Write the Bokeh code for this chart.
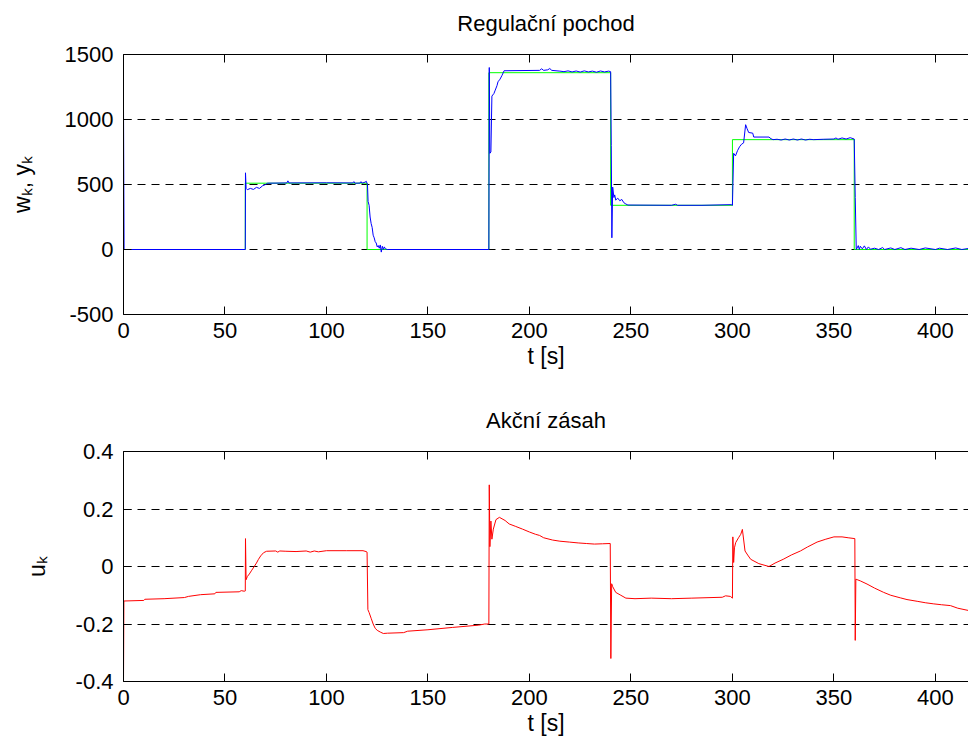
from bokeh.plotting import figure
from bokeh.layouts import column
from bokeh.models import Range1d, LinearAxis, FixedTicker, CustomLabelingPolicy
from bokeh.embed import file_html
from bokeh.resources import INLINE

FONT = "Liberation Sans"

# ---------------- data ----------------
x_ticks = [0, 50, 100, 150, 200, 250, 300, 350, 400]

# setpoint w_k (green), step after each time
t_w = [0, 60, 120, 180, 240, 300, 360, 416.3]
w_k = [0, 510, 0, 1360, 340, 845, 0, 0]

# output y_k (blue)
t_y = [0, 0.3, 60, 60.1, 60.4, 61, 62.5, 64, 65.5, 67, 68.5, 70, 71, 80.5, 81, 81.5,
       100, 113, 113.5, 114, 116.5, 117, 117.5, 119, 119.6, 120.2, 120.5, 121, 121.5,
       122, 122.5, 123, 123.5, 124, 124.5, 125, 125.5, 126, 126.5, 127, 127.5, 128,
       128.5, 129, 130, 180, 180.2, 180.5, 181, 181.5, 182.5, 183, 184, 184.5, 185.5,
       186.5, 187.5, 205, 206, 207, 209, 210, 211, 215, 217, 219, 221, 223, 225, 227,
       229, 231, 233, 235, 237, 239, 240, 240.3, 240.6, 241, 241.6, 242, 242.5, 243.5,
       244.5, 245.5, 246.5, 247.5, 248.5, 270, 272, 273, 285, 299.5, 300, 300.6, 301.5,
       302.5, 303.5, 304.5, 305.5, 306.5, 307.2, 308, 310, 310.5, 318, 319, 320, 322,
       324, 326, 328, 330, 332, 334, 336, 338, 340, 345, 350, 351, 352, 354, 356, 358,
       360, 360.5, 361, 362, 362.5, 363, 364, 365, 366, 367, 368, 370, 372, 374, 375,
       378, 380, 383, 385, 388, 392, 395, 400, 402, 406, 410, 413, 416.3]
y_k = [1090, 0, 0, 590, 470, 460, 470, 462, 478, 470, 490, 500, 510, 512, 528, 512,
       513, 512, 522, 510, 511, 522, 510, 518, 525, 500, 370, 340, 250,
       200, 170, 110, 90, 60, 50, 20, 30, 10, 35, -20, 25, 0,
       20, 5, 0, 0, 1400, 740, 750, 1180, 1200, 1220, 1260, 1290, 1310,
       1340, 1375, 1378, 1390, 1378, 1382, 1392, 1378, 1372, 1368, 1374, 1366, 1373, 1365, 1374,
       1366, 1372, 1364, 1373, 1366, 1372, 1368, 800, 90, 480, 400, 420, 380, 395,
       375, 385, 360, 350, 342, 340, 348, 340, 340, 345, 340, 740, 720,
       760, 790, 810, 820, 960, 930, 900, 895, 865, 865, 852, 845, 848,
       842, 850, 842, 850, 842, 850, 842, 848, 845, 848, 850, 858, 848, 858, 850, 860,
       850, 400, 0, 30, 0, 25, 5, 28, 0, 20, 2, 10, 0, 15, 0,
       12, 0, 14, 0, 10, 0, 12, 0, 10, 0, 12, 0, 8]

# control action u_k (red)
t_u = [0, 0.2, 10, 10.5, 20, 30, 32, 38, 45, 45.5, 57, 58, 59.5, 60, 60.1, 60.4, 61, 62,
       63, 64.4, 65.5, 66.5, 67.6, 69, 70.5, 75, 76, 77, 80, 85, 90, 92, 94, 96, 100,
       110, 118, 119.5, 120, 120.4, 121, 122, 123, 124, 125, 126.5, 128, 130, 138, 140,
       150, 162, 175, 178, 180, 180.2, 180.5, 181, 181.5, 182.2, 183.5, 185.2, 188, 190,
       193, 196.6, 200, 203, 205, 207, 211.4, 215, 219.6, 224, 228, 232, 236, 239.8,
       240.1, 240.5, 241, 242.5, 245, 247.5, 252, 260, 270, 280, 295, 296.6, 299, 300,
       300.2, 300.6, 301, 301.6, 303, 304.1, 304.9, 306.2, 307.5, 309, 313, 318, 321,
       325, 329, 333.5, 337, 341.7, 346, 350, 354, 357, 360.3, 360.5, 360.8, 363, 366.3,
       370, 374.5, 378, 382.7, 386, 391, 395, 399.2, 403, 407.4, 411, 416.3]
u_k = [-0.40, -0.12, -0.118, -0.114, -0.112, -0.108, -0.104, -0.098, -0.095, -0.09,
       -0.088, -0.084, -0.086, -0.085, 0.097, -0.046, -0.035, -0.026, -0.015, 0.0, 0.012,
       0.025, 0.037, 0.048, 0.053, 0.054, 0.05, 0.054, 0.053, 0.052, 0.054, 0.05, 0.054,
       0.051, 0.055, 0.055, 0.055, 0.052, 0.05, -0.15, -0.16, -0.18, -0.2, -0.215, -0.222,
       -0.228, -0.233, -0.232, -0.23, -0.225, -0.22, -0.212, -0.204, -0.2, -0.2, 0.284,
       0.069, 0.158, 0.095, 0.13, 0.163, 0.171, 0.16, 0.148, 0.14, 0.13, 0.12, 0.112,
       0.108, 0.1, 0.092, 0.088, 0.085, 0.082, 0.08, 0.078, 0.079, 0.08, -0.32, -0.06,
       -0.07, -0.09, -0.1, -0.11, -0.112, -0.11, -0.112, -0.11, -0.107, -0.102, -0.104,
       -0.11, 0.103, 0.014, 0.065, 0.083, 0.1, 0.112, 0.129, 0.054, 0.04, 0.025, 0.01,
       0.0, 0.012, 0.025, 0.04, 0.054, 0.068, 0.085, 0.095, 0.103, 0.103, 0.1, 0.097,
       -0.257, -0.044, -0.05, -0.061, -0.075, -0.09, -0.1, -0.109, -0.115, -0.121, -0.126,
       -0.13, -0.133, -0.136, -0.145, -0.153]

top_yticks = [-500, 0, 500, 1000, 1500]
bot_yticks = [-0.4, -0.2, 0, 0.2, 0.4]
bot_ylabels = {-0.4: "-0.4", -0.2: "-0.2", 0: "0", 0.2: "0.2", 0.4: "0.4"}
top_ylabels = {-500: "-500", 0: "0", 500: "500", 1000: "1000", 1500: "1500"}


def make_fig(title, ylabel, yrange, yticks, ylabels, height, top, bottom, ylab_off):
    p = figure(width=968, height=height, output_backend="svg", toolbar_location=None,
               x_range=Range1d(0, 416.3), y_range=Range1d(*yrange),
               min_border_left=123, min_border_right=0,
               min_border_top=top, min_border_bottom=bottom)
    p.outline_line_color = None
    p.background_fill_color = "white"
    p.border_fill_color = "white"
    p.title.text = title
    p.title.align = "center"
    p.title.text_font = FONT
    p.title.text_font_size = "22px"
    p.title.text_font_style = "normal"
    p.title.text_color = "black"
    p.title.standoff = 15

    xa = p.xaxis[0]
    xa.ticker = FixedTicker(ticks=x_ticks)
    xa.axis_label = "t [s]"
    ya = p.yaxis[0]
    ya.ticker = FixedTicker(ticks=yticks)
    ya.major_label_overrides = ylabels
    ya.axis_label = ylabel
    for ax in (xa, ya):
        ax.major_tick_in = 8
        ax.major_tick_out = 0
        ax.minor_tick_line_color = None
        ax.axis_line_color = "black"
        ax.major_tick_line_color = "black"
        ax.major_label_text_font = FONT
        ax.major_label_text_font_size = "22px"
        ax.major_label_text_color = "black"
        ax.axis_label_text_font = FONT
        ax.axis_label_text_font_size = "23px"
        ax.axis_label_text_font_style = "normal"
        ax.axis_label_text_color = "black"
    xa.major_label_standoff = 8
    xa.axis_label_standoff = 2
    ya.major_label_standoff = 10
    ya.axis_label_standoff = ylab_off

    # box top edge with inward ticks, no labels
    topax = LinearAxis(ticker=FixedTicker(ticks=x_ticks), major_tick_in=8, major_tick_out=0,
                       minor_tick_line_color=None, major_label_standoff=0,
                       major_label_policy=CustomLabelingPolicy(code="return []"),
                       axis_line_color="black")
    p.add_layout(topax, "above")

    p.xgrid.visible = False
    p.ygrid.ticker = FixedTicker(ticks=yticks)
    p.ygrid.grid_line_color = "black"
    p.ygrid.grid_line_dash = "8 6"
    p.ygrid.grid_line_width = 1
    return p


p1 = make_fig("Regulační pochod", "wₖ, yₖ", (-500, 1500), top_yticks, top_ylabels,
              390, 54, 76, 27)
p1.step(t_w, w_k, mode="after", line_color="#00ff00", line_width=1)
p1.line(t_y, y_k, line_color="#0000ff", line_width=1)

p2 = make_fig("Akční zásah", "uₖ", (-0.4, 0.4), bot_yticks, bot_ylabels,
              361, 61, 70, 23)
p2.line(t_u, u_k, line_color="#ff0000", line_width=1)

layout = column(p1, p2, spacing=0)
open("out.html", "w").write(file_html(layout, INLINE))
